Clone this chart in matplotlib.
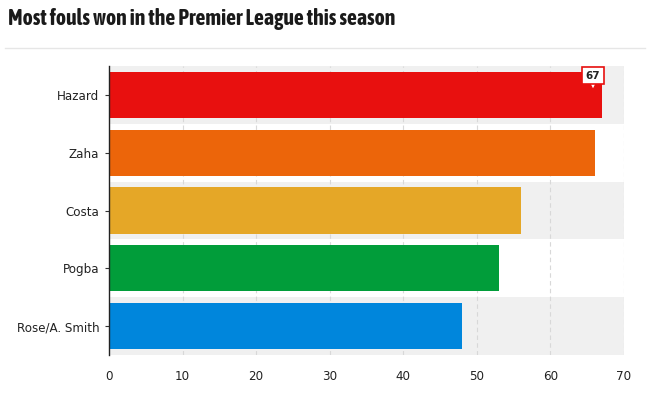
import matplotlib
matplotlib.use("Agg")
import matplotlib.pyplot as plt
from matplotlib import font_manager as fm

players = ["Hazard", "Zaha", "Costa", "Pogba", "Rose/A. Smith"]
fouls = [67, 66, 56, 53, 48]
colors = ["#e8100f", "#ec650a", "#e5a727", "#019d3a", "#0086dc"]
xticks = [0, 10, 20, 30, 40, 50, 60, 70]
title = "Most fouls won in the Premier League this season"

def wnum(f):
    w = f.weight
    if isinstance(w, int):
        return w
    return {"bold": 700, "normal": 400, "regular": 400}.get(str(w).lower(), 400)

cands = [f for f in fm.fontManager.ttflist
         if ("Narrow" in f.name or "Condensed" in f.name)
         and not any(k in f.name for k in ("Extra", "Ultra", "Semi"))
         and f.style == "normal"]
cands.sort(key=lambda f: (abs(wnum(f) - 700), f.name))
if cands:
    title_prop = fm.FontProperties(fname=cands[0].fname, size=15)
else:
    title_prop = fm.FontProperties(family="Open Sans", weight="bold", size=15)

fig = plt.figure(figsize=(6.5, 3.94), dpi=100)
ax = fig.add_axes([109/650, 1-355/394, (624-109)/650, (355-66)/394])

for i in range(len(players)):
    if i % 2 == 0:
        ax.axhspan(i-0.5, i+0.5, xmin=0, xmax=1, color="#f0f0f0", zorder=0, lw=0)

for x in xticks[1:]:
    ax.axvline(x, color="#d8d8d8", lw=0.8, ls=(0, (4, 3)), zorder=1)

ax.barh(range(len(players)), fouls, height=0.8, color=colors, zorder=2)

ax.set_ylim(len(players)-0.5, -0.5)
ax.set_xlim(0, 70)
ax.set_yticks(range(len(players)))
ax.set_yticklabels(players, fontsize=8.6, color="#222222", family="DejaVu Sans")
ax.set_xticks(xticks)
ax.set_xticklabels([str(x) for x in xticks], fontsize=8.6, color="#222222", family="DejaVu Sans")
ax.tick_params(axis="x", length=0, pad=11)
ax.tick_params(axis="y", length=3, width=0.8, color="#333333", pad=4)
for s in ["top", "right", "bottom"]:
    ax.spines[s].set_visible(False)
ax.spines["left"].set_color("#222222")
ax.spines["left"].set_linewidth(1)
ax.set_facecolor("white")

# tooltip for top bar
tx = 65.8
ax.plot([tx], [-0.16], marker="v", ms=6, mfc="white", mec="#e8100f", mew=1.1, zorder=4)
ax.text(tx, -0.33, str(fouls[0]), ha="center", va="center", fontsize=7.5,
        fontweight="bold", color="#222222",
        bbox=dict(boxstyle="square,pad=0.35", fc="white", ec="#e8100f", lw=1.2),
        zorder=5)

t = fig.text(8/650, 1-19/394, title, fontproperties=title_prop, color="#1a1a1a",
             ha="left", va="center")
# fit title width to about 389 px, as in the reference
r = fig.canvas.get_renderer()
w = t.get_window_extent(renderer=r).width
size = 15 * 389 / w
size = max(11, min(size, 17))
t.set_fontsize(size)

fig.add_artist(plt.Line2D([5/650, 645/650], [1-48/394, 1-48/394], color="#e6e6e6", lw=1))

fig.savefig("out.png", dpi=100)
